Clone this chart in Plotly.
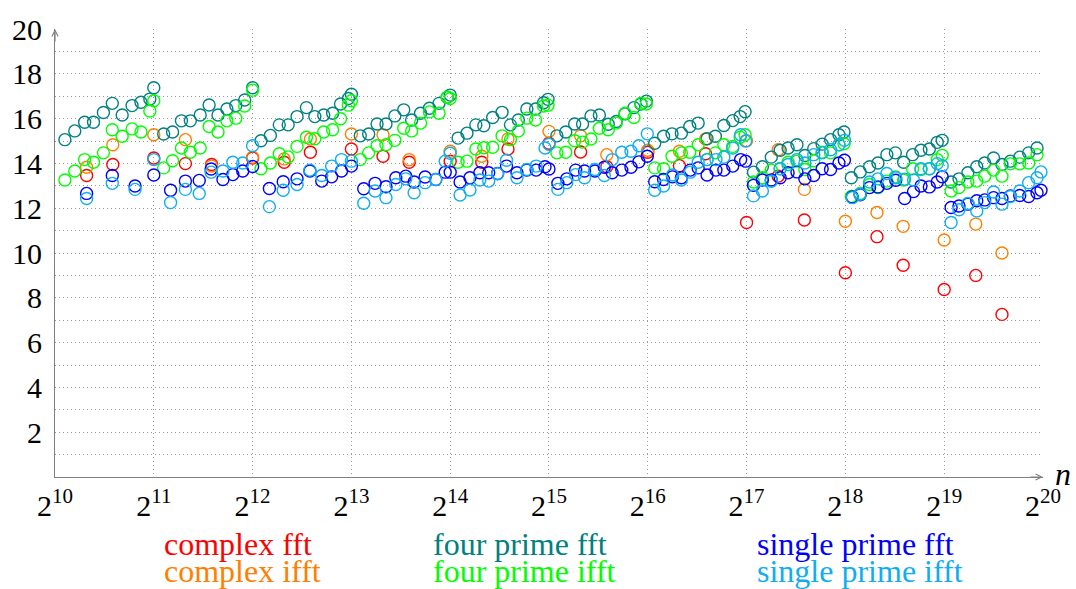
import plotly.graph_objects as go

# ---------------- data (x given as log2(n)) ----------------
complex_fft_log2n = [10, 10.32, 10.585, 11, 11.32, 11.585, 12, 12.32, 12.585, 13, 13.32, 13.585,
                     14, 14.32, 14.585, 15, 15.32, 15.585, 16, 16.32, 16.585, 17, 17.32, 17.585,
                     18, 18.32, 18.585, 19, 19.32, 19.585]
complex_fft = [13.80, 13.46, 13.95, 14.24, 13.99, 13.95, 14.24, 14.05, 14.50, 14.64, 14.32, 14.05,
               14.10, 14.05, 14.64, 14.90, 14.51, 13.85, 14.50, 13.90, 14.43, 11.36, 13.43, 11.47,
               9.12, 10.73, 9.45, 8.37, 9.00, 7.26]

complex_ifft_log2n = complex_fft_log2n
complex_ifft = [13.83, 13.83, 14.83, 15.28, 15.06, 13.88, 14.28, 14.20, 15.09, 15.31, 15.28, 14.17,
                14.54, 14.32, 15.09, 15.43, 15.23, 14.39, 14.59, 14.54, 15.09, 15.01, 14.61, 12.84,
                11.42, 11.81, 11.19, 10.58, 11.29, 10.00]

four_log2n = [10.00, 10.10, 10.20, 10.30, 10.39, 10.49, 10.58, 10.68, 10.78, 10.87, 10.96, 11.00,
              11.10, 11.19, 11.28, 11.37, 11.47, 11.56, 11.65, 11.74, 11.83, 11.92, 12.00,
              12.085, 12.18, 12.27, 12.36, 12.45, 12.545, 12.63, 12.72, 12.81, 12.89, 12.97, 13.00,
              13.09, 13.175, 13.26, 13.35, 13.44, 13.53, 13.61, 13.70, 13.79, 13.887, 13.97, 14.00,
              14.08, 14.17, 14.26, 14.34, 14.43, 14.525, 14.61, 14.69, 14.776, 14.864, 14.945, 14.99,
              15.08, 15.17, 15.26, 15.34, 15.425, 15.51, 15.60, 15.68, 15.77, 15.86, 15.93, 15.985,
              16.07, 16.16, 16.245, 16.34, 16.425, 16.51, 16.60, 16.684, 16.77, 16.86, 16.935, 16.985,
              17.07, 17.16, 17.25, 17.34, 17.42, 17.51, 17.59, 17.68, 17.765, 17.85, 17.935, 17.986,
              18.06, 18.15, 18.245, 18.33, 18.42, 18.506, 18.59, 18.68, 18.765, 18.85, 18.93, 18.98,
              19.07, 19.15, 19.24, 19.33, 19.41, 19.50, 19.585, 19.67, 19.765, 19.855, 19.94]
four_fft = [17.69, 15.06, 15.45, 15.84, 15.84, 16.27, 16.68, 16.16, 16.58, 16.73, 16.87, 17.38,
            15.31, 15.40, 15.90, 15.90, 16.16, 16.61, 16.16, 16.43, 16.58, 16.83, 17.38,
            15.01, 15.25, 15.72, 15.72, 16.09, 16.49, 16.09, 16.16, 16.24, 16.65, 16.90, 17.09,
            15.23, 15.31, 15.76, 15.76, 16.12, 16.39, 15.94, 16.24, 16.46, 16.68, 16.95, 17.05,
            15.13, 15.35, 15.72, 15.68, 16.05, 16.28, 15.72, 15.94, 16.43, 16.43, 16.71, 16.86,
            15.23, 15.40, 15.76, 15.76, 16.12, 16.16, 15.75, 15.87, 16.21, 16.49, 16.65, 16.78,
            14.90, 15.21, 15.32, 15.35, 15.65, 15.80, 15.10, 15.21, 15.69, 15.91, 16.09, 16.31,
            13.61, 13.85, 14.28, 14.59, 14.69, 14.83, 14.35, 14.66, 14.86, 15.06, 15.28, 15.40,
            13.36, 13.62, 13.85, 14.02, 14.39, 14.47, 14.05, 14.39, 14.59, 14.64, 14.94, 15.03,
            13.17, 13.31, 13.58, 13.85, 14.02, 14.24, 13.95, 14.10, 14.28, 14.47, 14.69]
four_ifft = [17.23, 13.26, 13.66, 14.17, 14.05, 14.47, 15.50, 15.21, 15.54, 15.40, 16.34, 16.80,
             13.80, 14.12, 14.69, 14.50, 14.69, 15.65, 15.40, 15.90, 16.02, 16.56, 17.27,
             13.76, 14.02, 14.43, 14.29, 14.76, 15.17, 15.10, 15.40, 15.50, 15.99, 16.60, 16.80,
             14.17, 14.47, 14.79, 14.83, 15.03, 15.57, 15.45, 15.80, 16.30, 16.24, 16.95, 16.90,
             14.05, 14.10, 14.64, 14.70, 14.72, 15.23, 15.06, 15.45, 16.02, 15.94, 16.56, 16.60,
             14.47, 14.50, 15.01, 14.95, 15.09, 15.57, 15.50, 15.80, 16.24, 16.05, 16.68, 16.65,
             13.80, 13.76, 14.32, 14.47, 14.50, 14.83, 14.17, 14.47, 14.83, 14.76, 15.17, 15.28,
             13.17, 13.36, 13.70, 13.76, 14.05, 14.10, 13.73, 14.12, 14.50, 14.47, 14.83, 14.88,
             12.52, 12.66, 13.06, 12.92, 13.21, 13.40, 13.26, 13.76, 13.73, 13.76, 14.17, 14.36,
             12.77, 12.92, 13.17, 13.21, 13.43, 13.70, 13.43, 13.98, 13.98, 14.02, 14.39]

single_log2n = [10.32, 10.58, 10.81, 11.00,
                11.17, 11.32, 11.46, 11.58, 11.70, 11.80, 11.90, 12.00,
                12.17, 12.31, 12.45, 12.58, 12.70, 12.80, 12.90, 13.00,
                13.125, 13.24, 13.35, 13.45, 13.55, 13.635, 13.746, 13.854, 13.95, 14.00,
                14.10, 14.20, 14.30, 14.39, 14.48, 14.57, 14.676, 14.776, 14.87, 14.96, 15.00,
                15.09, 15.18, 15.27, 15.36, 15.465, 15.56, 15.64, 15.737, 15.83, 15.91, 15.995,
                16.07, 16.16, 16.25, 16.34, 16.43, 16.51, 16.60, 16.69, 16.77, 16.86, 16.94, 16.99,
                17.07, 17.16, 17.25, 17.34, 17.42, 17.51, 17.59, 17.68, 17.765, 17.85, 17.935, 17.99,
                18.07, 18.15, 18.245, 18.33, 18.42, 18.51, 18.60, 18.69, 18.765, 18.85, 18.93, 18.98,
                19.07, 19.15, 19.24, 19.33, 19.41, 19.50, 19.585, 19.67, 19.765, 19.855, 19.94, 19.98]
single_fft = [12.66, 13.46, 12.99, 13.48,
              12.80, 13.21, 13.24, 13.75, 13.28, 13.50, 13.66, 13.86,
              12.88, 13.18, 13.31, 13.66, 13.21, 13.40, 13.66, 13.88,
              12.87, 13.11, 12.96, 13.36, 13.43, 13.17, 13.39, 13.28, 13.61, 13.61,
              13.17, 13.36, 13.58, 13.58, 13.55, 13.88, 13.58, 13.70, 13.70, 13.85, 13.75,
              13.11, 13.31, 13.70, 13.66, 13.66, 13.83, 13.58, 13.70, 13.83, 14.07, 14.32,
              13.18, 13.28, 13.40, 13.36, 13.70, 13.80, 13.48, 13.70, 13.70, 13.88, 14.17, 14.10,
              13.02, 13.26, 13.26, 13.36, 13.58, 13.62, 13.31, 13.46, 13.76, 13.73, 14.02, 14.14,
              12.50, 12.60, 12.92, 12.95, 13.11, 13.25, 12.43, 12.74, 12.99, 12.95, 13.17, 13.40,
              12.03, 12.10, 12.18, 12.33, 12.37, 12.47, 12.43, 12.55, 12.57, 12.52, 12.69, 12.80]
single_ifft = [12.43, 13.11, 12.84, 14.17,
               12.25, 12.84, 12.66, 13.61, 13.66, 14.05, 14.02, 14.79,
               12.07, 12.80, 13.06, 13.70, 13.46, 13.88, 14.17, 14.10,
               12.22, 12.77, 12.47, 13.06, 13.31, 12.69, 13.14, 13.28, 14.10, 14.45,
               12.59, 12.81, 13.26, 13.21, 13.54, 14.14, 13.36, 13.73, 13.88, 14.69, 14.85,
               12.84, 13.14, 13.50, 13.36, 13.73, 13.46, 14.17, 14.50, 14.54, 14.79, 15.32,
               12.80, 12.99, 13.48, 13.26, 13.61, 14.05, 14.17, 14.17, 14.28, 14.69, 15.28, 15.00,
               12.55, 12.77, 13.20, 13.76, 13.95, 14.17, 14.02, 14.39, 14.47, 14.61, 14.83, 15.03,
               12.47, 12.62, 13.17, 13.31, 13.55, 13.36, 13.30, 13.26, 13.76, 13.76, 13.99, 13.90,
               11.36, 11.93, 12.21, 11.88, 12.25, 12.72, 12.18, 12.52, 12.77, 13.14, 13.36, 13.62]

tick_exponents = list(range(10, 21))
y_ticks = [2, 4, 6, 8, 10, 12, 14, 16, 18, 20]

series = [
    ("complex fft", complex_fft_log2n, complex_fft, "#ff0000"),
    ("complex ifft", complex_ifft_log2n, complex_ifft, "#ff8000"),
    ("four prime fft", four_log2n, four_fft, "#008080"),
    ("four prime ifft", four_log2n, four_ifft, "#00ff00"),
    ("single prime fft", single_log2n, single_fft, "#0000ff"),
    ("single prime ifft", single_log2n, single_ifft, "#10aef0"),
]

FONT = "'Liberation Serif', 'DejaVu Serif', serif"
W, H = 1076, 589
ML, MR, MT, MB = 53, 33, 25, 112
PW, PH = W - ML - MR, H - MT - MB

fig = go.Figure()
for name, xs, ys, col in series:
    fig.add_trace(go.Scatter(
        x=[2 ** e for e in xs], y=ys, mode="markers", name=name,
        marker=dict(symbol="circle-open", size=12, color=col, line=dict(width=1.4, color=col)),
        cliponaxis=False, showlegend=False))

GRID = "#9a9a9a"
fig.update_layout(
    width=W, height=H,
    margin=dict(l=ML, r=MR, t=MT, b=MB),
    plot_bgcolor="white", paper_bgcolor="white",
    font=dict(family=FONT, size=28, color="black"),
)
fig.update_xaxes(
    type="log", range=[10 * 0.30103, 20 * 0.30103 + 0.0001],
    tickvals=[2 ** k for k in tick_exponents],
    ticktext=[f"2<sup>{k}</sup>" for k in tick_exponents],
    showgrid=True, gridcolor=GRID, griddash="1px,3px", gridwidth=1,
    showline=True, linecolor="#808080", linewidth=1.2, zeroline=False,
    ticks="", tickfont=dict(family=FONT, size=30, color="black"), ticklabelstandoff=2,
)
fig.update_yaxes(
    range=[0, 20], tickvals=y_ticks, ticktext=[str(v) for v in y_ticks],
    showgrid=True, gridcolor=GRID, griddash="1px,3px", gridwidth=1,
    minor=dict(dtick=1, tick0=0, showgrid=True, gridcolor=GRID, griddash="1px,3px", gridwidth=1),
    showline=True, linecolor="#808080", linewidth=1.2, zeroline=False,
    ticks="", tickfont=dict(family=FONT, size=30, color="black"), ticklabelstandoff=6,
)

# axis arrows
fig.add_annotation(x=1.0, y=0, xref="paper", yref="paper", ax=-14, ay=0, text="",
                   showarrow=True, arrowhead=5, arrowsize=1.0, arrowwidth=1.2, arrowcolor="#808080")
fig.add_annotation(x=0, y=1.0, xref="paper", yref="paper", ax=0, ay=14, text="",
                   showarrow=True, arrowhead=5, arrowsize=1.0, arrowwidth=1.2, arrowcolor="#808080")
fig.add_annotation(x=1.0, y=0, xref="paper", yref="paper", text="<i>n</i>", showarrow=False,
                   xanchor="left", yanchor="middle", xshift=10, yshift=3,
                   font=dict(family=FONT, size=32, color="black"))

# legend as coloured text, positioned in pixel terms below the plot
legend_cols = [160, 430, 754]
legend_rows = [545, 572]
for i, (name, xs, ys, col) in enumerate(series):
    c, r = i // 2, i % 2
    fig.add_annotation(x=(legend_cols[c] - ML) / PW, y=(H - MB - legend_rows[r]) / PH,
                       xref="paper", yref="paper",
                       yanchor="middle", xanchor="left", text=name, showarrow=False,
                       font=dict(family=FONT, size=32, color=col))
fig.write_html("out.html")
